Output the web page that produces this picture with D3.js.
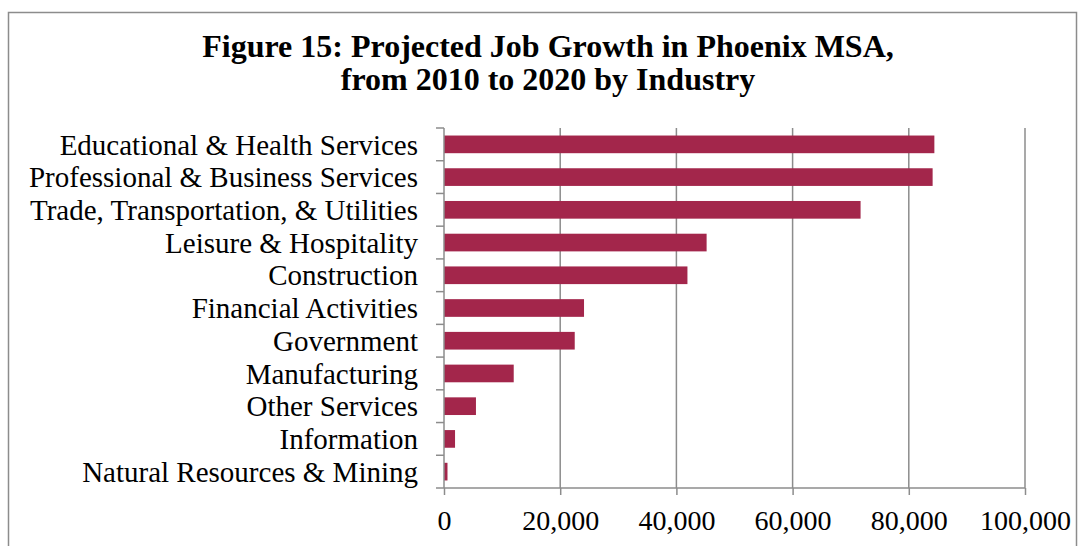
<!DOCTYPE html>
<html>
<head>
<meta charset="utf-8">
<script src="https://cdn.jsdelivr.net/npm/d3@7"></script>
<style>
  body { margin: 0; background: #fff; }
  svg { display: block; }
</style>
</head>
<body>
<div id="container"></div>
<script>
const industries = [
  "Educational & Health Services",
  "Professional & Business Services",
  "Trade, Transportation, & Utilities",
  "Leisure & Hospitality",
  "Construction",
  "Financial Activities",
  "Government",
  "Manufacturing",
  "Other Services",
  "Information",
  "Natural Resources & Mining"
];
const jobGrowth = [84400, 84100, 71700, 45200, 41900, 24100, 22500, 12000, 5500, 1900, 600];
const xTicks = [0, 20000, 40000, 60000, 80000, 100000];
const titleLines = ["Figure 15: Projected Job Growth in Phoenix MSA,", "from 2010 to 2020 by Industry"];

const w = 1079;
const h = 546;
const plotLeft = 444, plotRight = 1025, plotTop = 128, plotBottom = 488;
const barColor = "#a3264b";
const gridColor = "#8c8c8c";

const svg = d3.select("#container")
  .append("svg")
  .attr("width", w)
  .attr("height", h)
  .style("font-family", "'Liberation Serif', 'Times New Roman', serif");

// outer frame
svg.append("rect")
  .attr("x", 8.5)
  .attr("y", 12.5)
  .attr("width", 1068)
  .attr("height", 560)
  .attr("fill", "none")
  .attr("stroke", "#8c8c8c")
  .attr("stroke-width", 1.5);

const xScale = d3.scaleLinear()
  .domain([0, 100000])
  .range([plotLeft, plotRight]);

const yScale = d3.scaleBand()
  .domain(industries)
  .range([plotTop, plotBottom])
  .paddingInner(0.46)
  .paddingOuter(0.23);

// gridlines
svg.append("g")
  .selectAll("line")
  .data(xTicks.slice(1))
  .enter()
  .append("line")
  .attr("x1", d => xScale(d))
  .attr("x2", d => xScale(d))
  .attr("y1", plotTop)
  .attr("y2", plotBottom)
  .attr("stroke", gridColor)
  .attr("stroke-width", 1.5);

// bars
svg.append("g")
  .selectAll("rect")
  .data(industries)
  .enter()
  .append("rect")
  .attr("x", xScale(0))
  .attr("y", d => yScale(d))
  .attr("width", (d, i) => xScale(jobGrowth[i]) - xScale(0))
  .attr("height", yScale.bandwidth())
  .attr("fill", barColor);

// x axis
const xAxis = d3.axisBottom(xScale)
  .tickValues(xTicks)
  .tickFormat(d3.format(","))
  .tickSize(7)
  .tickPadding(15);

const gx = svg.append("g")
  .attr("transform", "translate(0," + plotBottom + ")")
  .call(xAxis);
gx.select(".domain").attr("stroke", gridColor).attr("stroke-width", 1.5)
  .attr("d", "M" + (plotLeft - 8) + ",0H" + plotRight);
gx.selectAll(".tick line").attr("stroke", gridColor).attr("stroke-width", 1.5);
gx.selectAll(".tick text")
  .attr("fill", "#000")
  .style("font-size", "28px")
  .style("font-family", "'Liberation Serif', 'Times New Roman', serif");

// y axis: ticks at category boundaries
const boundaries = d3.range(industries.length + 1).map(i => plotTop + i * (plotBottom - plotTop) / industries.length);
const gy = svg.append("g");
gy.append("line")
  .attr("x1", plotLeft).attr("x2", plotLeft)
  .attr("y1", plotTop).attr("y2", plotBottom)
  .attr("stroke", gridColor).attr("stroke-width", 1.5);
gy.selectAll("line.tk")
  .data(boundaries.slice(0, -1))
  .enter()
  .append("line")
  .attr("class", "tk")
  .attr("x1", plotLeft - 8).attr("x2", plotLeft)
  .attr("y1", d => d).attr("y2", d => d)
  .attr("stroke", gridColor).attr("stroke-width", 1.5);

gy.selectAll("text")
  .data(industries)
  .enter()
  .append("text")
  .attr("x", 418)
  .attr("y", d => yScale(d) + yScale.bandwidth() / 2)
  .attr("dy", "0.35em")
  .attr("text-anchor", "end")
  .style("font-size", "29px")
  .text(d => d);

// title
svg.append("g")
  .selectAll("text")
  .data(titleLines)
  .enter()
  .append("text")
  .attr("x", 548)
  .attr("y", (d, i) => 57 + i * 33)
  .attr("text-anchor", "middle")
  .style("font-size", "32px")
  .style("font-weight", "bold")
  .text(d => d);
</script>
</body>
</html>
